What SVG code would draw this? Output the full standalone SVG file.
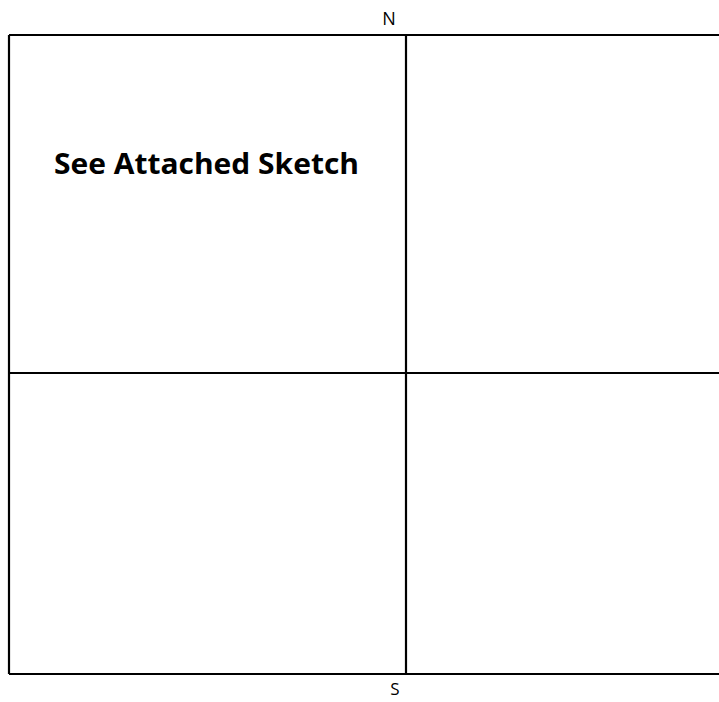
<svg xmlns="http://www.w3.org/2000/svg" width="719" height="702" viewBox="0 0 719 702">
<style>
.ln{stroke:#000;stroke-width:2.2;fill:none}
.lbl{font-family:"Open Sans","Liberation Sans",sans-serif;fill:#000}
</style>
<rect width="719" height="702" fill="#fff"/>
<g id="grid">
<path class="ln" d="M9 35 H719 M9 674 H719 M9 35 V674 M406 35 V674 M9 373 H719"/>
</g>
<g id="labels">
<text class="lbl" x="389" y="25" font-size="18" text-anchor="middle">N</text>
<text class="lbl" x="395" y="695" font-size="17" text-anchor="middle">S</text>
<text class="lbl" x="54" y="174" font-size="28" font-weight="bold" textLength="305" lengthAdjust="spacingAndGlyphs">See Attached Sketch</text>
</g>
</svg>
